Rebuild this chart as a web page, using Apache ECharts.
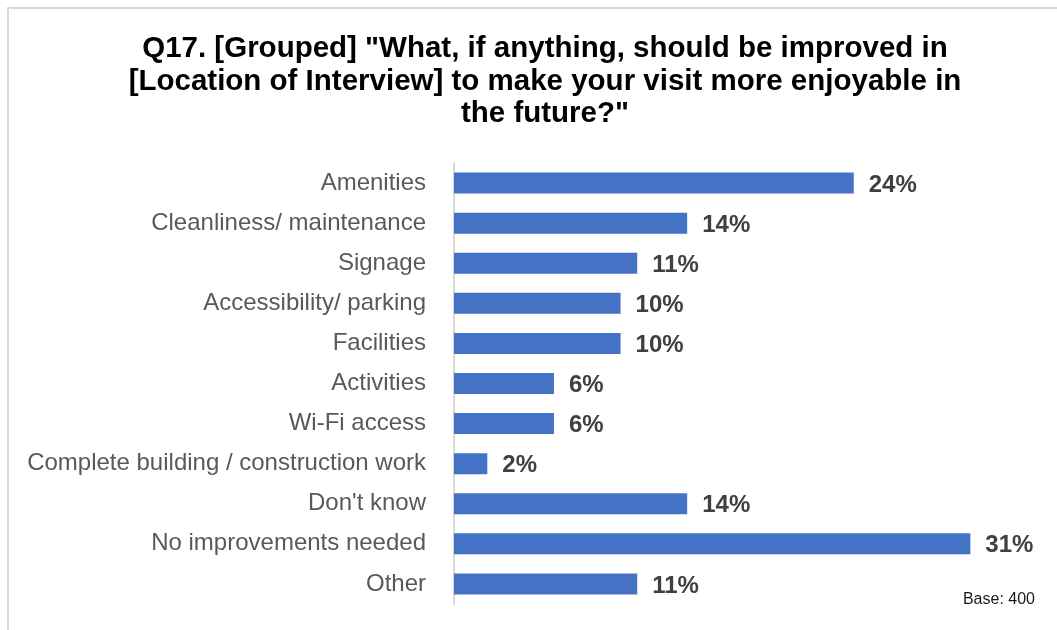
<!DOCTYPE html>
<html>
<head>
<meta charset="utf-8">
<style>
  html, body { margin: 0; padding: 0; background: #ffffff; }
  #chart { width: 1057px; height: 630px; }
</style>
<script src="https://cdn.jsdelivr.net/npm/echarts@6/dist/echarts.min.js"></script>
</head>
<body>
<div id="chart"></div>
<script>
// Survey answers, top to bottom
const categories = [
  'Amenities',
  'Cleanliness/ maintenance',
  'Signage',
  'Accessibility/ parking',
  'Facilities',
  'Activities',
  'Wi-Fi access',
  'Complete building / construction work',
  "Don't know",
  'No improvements needed',
  'Other'
];
// Share of respondents (%)
const values = [24, 14, 11, 10, 10, 6, 6, 2, 14, 31, 11];

const titleText = 'Q17. [Grouped] "What, if anything, should be improved in\n[Location of Interview] to make your visit more enjoyable in\nthe future?"';
const baseNote = 'Base: 400';

const chart = echarts.init(document.getElementById('chart'));
chart.setOption({
  backgroundColor: '#ffffff',
  animation: false,
  title: {
    text: titleText,
    left: 540,
    top: 28,
    textAlign: 'center',
    textStyle: {
      fontFamily: 'Liberation Sans, Arial, sans-serif',
      fontSize: 29.5,
      fontWeight: 'bold',
      lineHeight: 32.5,
      color: '#000000'
    }
  },
  grid: { left: 454, top: 163, width: 583, height: 441 },
  xAxis: {
    type: 'value',
    min: 0,
    max: 35,
    show: false,
    splitLine: { show: false }
  },
  yAxis: {
    type: 'category',
    data: categories,
    inverse: true,
    axisTick: { show: false },
    axisLine: { show: true, lineStyle: { color: '#d9d9d9', width: 2 } },
    axisLabel: {
      margin: 28,
      fontFamily: 'Liberation Sans, Arial, sans-serif',
      fontSize: 24,
      color: '#595959',
      padding: [2, 0, 0, 0]
    }
  },
  series: [{
    type: 'bar',
    data: values,
    barWidth: 21,
    itemStyle: { color: '#4472C4' },
    label: {
      show: true,
      position: 'right',
      distance: 15,
      offset: [0, 2],
      formatter: '{c}%',
      fontFamily: 'Liberation Sans, Arial, sans-serif',
      fontSize: 24,
      fontWeight: 'bold',
      color: '#404040'
    }
  }],
  graphic: [
    // chart frame (top and left edges)
    { type: 'rect', shape: { x: 7, y: 7, width: 1050, height: 2 }, style: { fill: '#d9d9d9' } },
    { type: 'rect', shape: { x: 7, y: 7, width: 2, height: 623 }, style: { fill: '#d9d9d9' } },
    {
      type: 'text',
      right: 22,
      top: 592,
      style: {
        text: baseNote,
        font: '16px "Liberation Sans", Arial, sans-serif',
        fill: '#1a1a1a'
      }
    }
  ]
});
</script>
</body>
</html>
